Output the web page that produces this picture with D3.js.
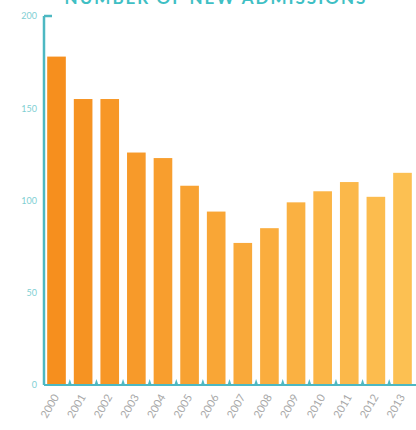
<!DOCTYPE html>
<html><head><meta charset="utf-8">
<script src="https://cdn.jsdelivr.net/npm/d3@7"></script>
<style>body{margin:0;background:#fff;overflow:hidden}</style>
</head><body><svg id="c" width="416" height="430"></svg>
<script>
const years = ["2000","2001","2002","2003","2004","2005","2006","2007","2008","2009","2010","2011","2012","2013"];
const values = [178,155,155,126,123,108,94,77,85,99,105,110,102,115];
const yTicks = [0,50,100,150,200];
const title = "NUMBER OF NEW ADMISSIONS";

const svg = d3.select("#c");
const m = {l:44, r:1, t:16, b:45};
const W = 416, H = 430;
const x = d3.scaleBand().domain(years).range([m.l, W - m.r]).paddingInner(0.3).paddingOuter(0.12);
const y = d3.scaleLinear().domain([0,200]).range([H - m.b, m.t]);
const col = d3.scaleLinear().domain([0, years.length-1]).range(["#f68f1e","#fcc052"]);

svg.append("text").attr("x", 216).attr("y", 4).attr("text-anchor","middle")
  .attr("font-family","Lato, sans-serif").attr("font-weight","bold").attr("font-size",17)
  .attr("letter-spacing","2px").attr("fill","#3fbfc4").text(title);

svg.selectAll("rect.bar").data(values).join("rect").attr("class","bar")
  .attr("x",(d,i)=>x(years[i])).attr("width",x.bandwidth())
  .attr("y",d=>y(d)).attr("height",d=>y(0)-y(d))
  .attr("fill",(d,i)=>col(i));

// y axis
const ya = svg.append("g").attr("transform",`translate(${m.l},0)`)
  .call(d3.axisLeft(y).tickValues(yTicks).tickSize(0).tickSizeOuter(0).tickPadding(7));
ya.select(".domain").remove();
ya.selectAll("text").attr("fill","#7fcfd3").attr("font-family","Lato, sans-serif").attr("font-size",9);
svg.append("line").attr("x1",m.l).attr("x2",m.l).attr("y1",y(200)).attr("y2",y(0))
  .attr("stroke","#4db8c2").attr("stroke-width",2.5);
svg.append("line").attr("x1",m.l).attr("x2",m.l+8).attr("y1",y(200)).attr("y2",y(200))
  .attr("stroke","#4db8c2").attr("stroke-width",2.5);

// x axis
svg.append("line").attr("x1",m.l).attr("x2",W).attr("y1",y(0)).attr("y2",y(0))
  .attr("stroke","#4db8c2").attr("stroke-width",2);
const step = x.step();
svg.selectAll("path.tk").data(years.slice(1)).join("path").attr("class","tk")
  .attr("d",d=>{const cx = x(d) - (step - x.bandwidth())/2; return `M${cx-2},${y(0)}L${cx},${y(0)-6}L${cx+2},${y(0)}Z`;})
  .attr("fill","#4db8c2");
svg.selectAll("text.xl").data(years).join("text").attr("class","xl")
  .attr("transform",d=>`translate(${x(d)+x.bandwidth()/2+3},${y(0)+12}) rotate(-60)`)
  .attr("text-anchor","end").attr("font-family","Lato, sans-serif").attr("font-size",11)
  .attr("fill","#a9a9a9").text(d=>d);
</script></body></html>
